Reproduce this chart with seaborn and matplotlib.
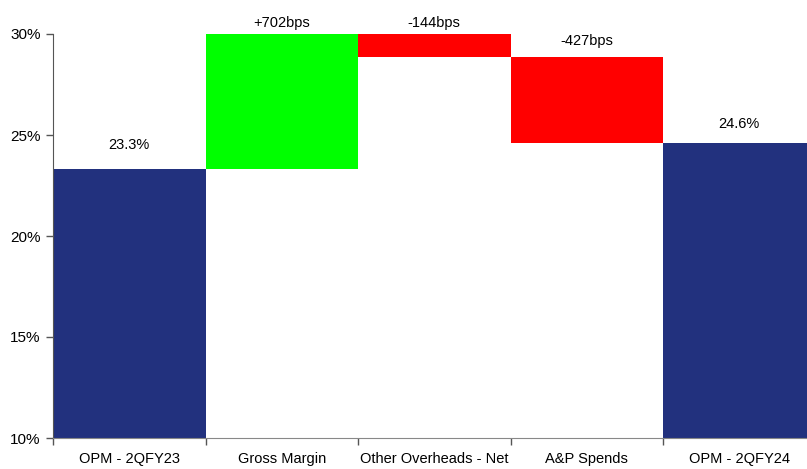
import numpy as np
import pandas as pd
import matplotlib
matplotlib.use("Agg")
import matplotlib.pyplot as plt
import seaborn as sns

# data
categories = ["OPM - 2QFY23", "Gross Margin", "Other Overheads - Net", "A&P Spends", "OPM - 2QFY24"]
start_opm = 23.3
changes_bps = [702, -144, -427]
end_opm = 24.6
labels = ["23.3%", "+702bps", "-144bps", "-427bps", "24.6%"]
colors = ["#22317e", "#00ff00", "#ff0000", "#ff0000", "#22317e"]
label_gap_px = [17, 4, 4, 9, 12]

# waterfall levels
levels = start_opm + np.cumsum(changes_bps) / 100.0
prev = np.concatenate([[start_opm], levels[:-1]])
tops = [start_opm] + list(np.maximum(prev, levels)) + [end_opm]
bottoms = [0] + list(np.minimum(prev, levels)) + [0]

df = pd.DataFrame({"cat": categories, "top": tops, "bottom": bottoms})

sns.set_style("white")
plt.rcParams["font.family"] = ["Liberation Sans", "DejaVu Sans"]
plt.rcParams["text.color"] = "black"

fig = plt.figure(figsize=(8.07, 4.69), dpi=100)
ax = fig.add_axes([53 / 807, 1 - 438 / 469, 762.5 / 807, 404 / 469])

sns.barplot(data=df, x="cat", y="top", hue="cat", palette=colors, legend=False,
            width=1.0, linewidth=0, saturation=1, ax=ax)
sns.barplot(data=df, x="cat", y="bottom", color="white", width=1.0,
            linewidth=0, saturation=1, ax=ax)

fs = 10.5
ax.set_ylim(10, 30)
ax.set_xlim(-0.5, len(categories) - 0.5)
ax.set_yticks([10, 15, 20, 25, 30])
ax.set_yticklabels([f"{v}%" for v in [10, 15, 20, 25, 30]], fontsize=11)
ax.set_xlabel("")
ax.set_ylabel("")
ax.tick_params(axis="x", which="major", bottom=False, length=0, labelsize=fs,
               labelcolor="black", pad=10)
ax.set_xticks(np.arange(-0.5, len(categories)), minor=True)
ax.tick_params(axis="x", which="minor", bottom=True, length=5, width=1,
               direction="out", color="#555555")
ax.tick_params(axis="y", which="major", left=True, length=5, width=1, direction="out",
               color="#555555", labelcolor="black", pad=4)

for s in ["top", "right"]:
    ax.spines[s].set_visible(False)
ax.spines["left"].set_color("#555555")
ax.spines["bottom"].set_color("#888888")

for i, (lab, t) in enumerate(zip(labels, tops)):
    y = min(t, 30)
    ax.annotate(lab, (i, y), xytext=(0, label_gap_px[i] * 0.72), textcoords="offset points",
                ha="center", va="bottom", fontsize=fs, color="black", annotation_clip=False)

fig.savefig("out.png", dpi=100)
